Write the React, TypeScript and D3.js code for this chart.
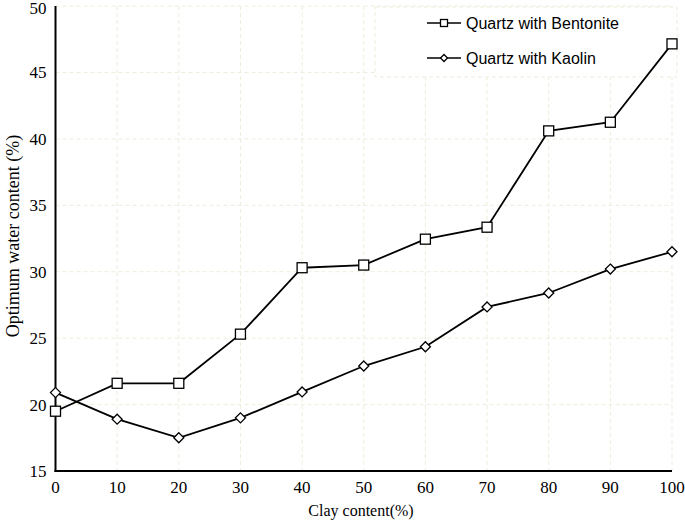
// Optimum water content vs clay content, drawn with d3 scales.

import * as d3 from "d3";

const clay = [0, 10, 20, 30, 40, 50, 60, 70, 80, 90, 100];
const bentonite = [19.5, 21.6, 21.6, 25.3, 30.3, 30.5, 32.45, 33.35, 40.6, 41.25, 47.15];
const kaolin = [20.9, 18.9, 17.5, 19.0, 20.95, 22.9, 24.35, 27.35, 28.4, 30.2, 31.5];
const xTicks = [0, 10, 20, 30, 40, 50, 60, 70, 80, 90, 100];
const yTicks = [15, 20, 25, 30, 35, 40, 45, 50];
const seriesNames = ["Quartz with Bentonite", "Quartz with Kaolin"];

const gridColor = "#eeeddc";
const serif = "'Liberation Serif', 'Times New Roman', serif";
const sans = "'Liberation Sans', Arial, sans-serif";

function Square({ x, y, s }: { x: number; y: number; s: number }) {
  return <rect x={x - s / 2} y={y - s / 2} width={s} height={s} fill="white" stroke="black" strokeWidth={1.3} />;
}

function Diamond({ x, y, s }: { x: number; y: number; s: number }) {
  const d = `M${x},${y - s / 2}L${x + s / 2},${y}L${x},${y + s / 2}L${x - s / 2},${y}Z`;
  return <path d={d} fill="white" stroke="black" strokeWidth={1.3} />;
}

export default function App() {
  const width = 685;
  const height = 521;
  const left = 55.5;
  const right = 672;
  const top = 6;
  const bottom = 471;

  const scaleX = d3.scaleLinear([0, 100], [left, right]);
  const scaleY = d3.scaleLinear([15, 50], [bottom, top]);

  const line = d3.line<number>((d, i) => scaleX(clay[i]), (d) => scaleY(d));

  return (
    <svg
      width={width}
      height={height}
      style={{ position: "absolute", left: 0, top: 0, background: "white" }}
    >
      {/* grid */}
      <g stroke={gridColor} strokeWidth={1} strokeDasharray="4,3">
        {xTicks.slice(1).map((t) => (
          <line key={`gx${t}`} x1={scaleX(t)} x2={scaleX(t)} y1={top} y2={bottom} />
        ))}
        {yTicks.slice(1).map((t) => (
          <line key={`gy${t}`} x1={left} x2={right} y1={scaleY(t)} y2={scaleY(t)} />
        ))}
      </g>

      {/* legend box */}
      <rect x={375} y={7} width={302} height={70} fill="white" stroke={gridColor} strokeDasharray="4,3" />
      <g fontFamily={sans} fontSize={16} fill="black">
        <line x1={427} x2={461} y1={23} y2={23} stroke="black" strokeWidth={1.5} />
        <Square x={444} y={23} s={7} />
        <text x={466} y={29}>{seriesNames[0]}</text>
        <line x1={427} x2={461} y1={58} y2={58} stroke="black" strokeWidth={1.5} />
        <Diamond x={444} y={58} s={7} />
        <text x={466} y={64}>{seriesNames[1]}</text>
      </g>

      {/* axes */}
      <g stroke="black" strokeWidth={2}>
        <line x1={left} x2={left} y1={top} y2={bottom + 1} />
        <line x1={left - 1} x2={right} y1={bottom} y2={bottom} />
      </g>

      {/* tick labels */}
      <g fontFamily={serif} fontSize={17} fill="black">
        {xTicks.map((t) => (
          <text key={`tx${t}`} x={scaleX(t)} y={bottom + 22} textAnchor="middle">
            {t}
          </text>
        ))}
        {yTicks.map((t) => (
          <text key={`ty${t}`} x={left - 9} y={Math.max(scaleY(t) + 6, 14)} textAnchor="end">
            {t}
          </text>
        ))}
      </g>

      {/* axis titles */}
      <g fontFamily={serif} fill="black">
        <text x={361} y={516} fontSize={16} textAnchor="middle">
          Clay content(%)
        </text>
        <text
          transform="translate(19, 236) rotate(-90)"
          fontSize={18}
          textAnchor="middle"
        >
          Optimum water content (%)
        </text>
      </g>

      {/* series */}
      <path d={line(bentonite) ?? ""} fill="none" stroke="black" strokeWidth={1.8} />
      <path d={line(kaolin) ?? ""} fill="none" stroke="black" strokeWidth={1.8} />
      {bentonite.map((d, i) => (
        <Square key={`b${i}`} x={scaleX(clay[i])} y={scaleY(d)} s={10} />
      ))}
      {kaolin.map((d, i) => (
        <Diamond key={`k${i}`} x={scaleX(clay[i])} y={scaleY(d)} s={10} />
      ))}
    </svg>
  );
}
